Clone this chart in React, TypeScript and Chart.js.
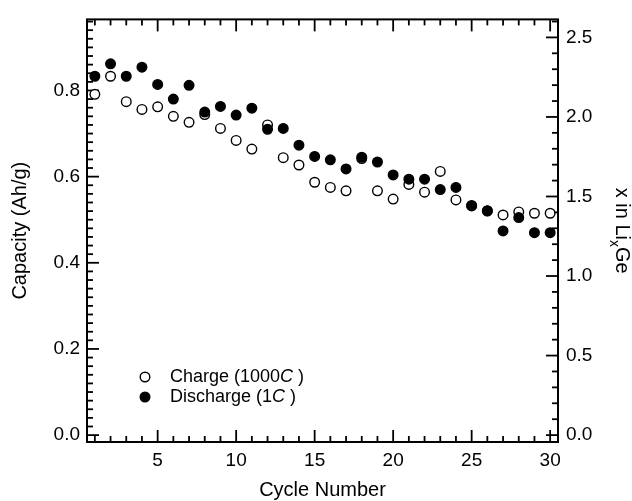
import React, { useEffect, useRef } from "react";
import { Chart, registerables } from "chart.js";

Chart.register(...registerables);

// ---- data ----
const cycles = [1, 2, 3, 4, 5, 6, 7, 8, 9, 10, 11, 12, 13, 14, 15, 16, 17, 18, 19, 20, 21, 22, 23, 24, 25, 26, 27, 28, 29, 30];
const chargeCapacity = [
  0.791, 0.833, 0.774, 0.756, 0.762, 0.740, 0.726, 0.744, 0.712, 0.684,
  0.664, 0.720, 0.644, 0.627, 0.587, 0.575, 0.567, 0.642, 0.567, 0.548,
  0.582, 0.564, 0.612, 0.546, 0.533, 0.520, 0.511, 0.518, 0.515, 0.515,
];
const dischargeCapacity = [
  0.833, 0.862, 0.833, 0.854, 0.814, 0.780, 0.812, 0.750, 0.763, 0.743,
  0.759, 0.710, 0.712, 0.673, 0.647, 0.639, 0.618, 0.645, 0.634, 0.604,
  0.594, 0.594, 0.570, 0.575, 0.532, 0.521, 0.474, 0.505, 0.470, 0.470,
];
const cycleTicks = [5, 10, 15, 20, 25, 30];
const capacityTicks = [0, 0.2, 0.4, 0.6, 0.8];
const lithiumTicks = [0, 0.5, 1.0, 1.5, 2.0, 2.5];
const cycleRange = [0.5, 30.5];
const capacityRange = [-0.016, 0.965];
const lithiumPerCapacity = 2.708; // x in LixGe per Ah/g
const legendLabels = ["Charge (1000", "Discharge (1"];

const FONT = "'Liberation Sans', Arial, Helvetica, sans-serif";

const decorPlugin = {
  id: "decor",
  beforeDatasetsDraw(chart: any) {
    const { ctx, chartArea: a, scales } = chart;
    const xs = scales.x, ys = scales.y, y2 = scales.y2;
    ctx.save();
    ctx.strokeStyle = "#000";
    ctx.lineWidth = 1.8;
    const line = (x1: number, yA: number, x2: number, yB: number) => {
      ctx.beginPath();
      ctx.moveTo(x1, yA);
      ctx.lineTo(x2, yB);
      ctx.stroke();
    };
    for (let c = 1; c <= 30; c++) {
      const px = xs.getPixelForValue(c);
      const len = c % 5 === 0 ? 12 : 6;
      line(px, a.bottom, px, a.bottom - len);
      line(px, a.top, px, a.top + len);
    }
    for (let i = 0; i <= 48; i++) {
      const v = i * 0.02;
      if (v > ys.max) break;
      const py = ys.getPixelForValue(v);
      const len = i % 10 === 0 ? 12 : 6;
      line(a.left, py, a.left + len, py);
    }
    for (let i = 0; i <= 26; i++) {
      const v = i * 0.1;
      if (v > y2.max) break;
      const py = y2.getPixelForValue(v);
      const len = i % 5 === 0 ? 12 : 6;
      line(a.right, py, a.right - len, py);
    }
    ctx.lineWidth = 2;
    ctx.strokeRect(a.left, a.top, a.right - a.left, a.bottom - a.top);
    ctx.restore();
  },
  afterDraw(chart: any) {
    const { ctx, chartArea: a } = chart;
    ctx.save();
    // legend
    const mx = a.left + 58;
    const rows = [a.bottom - 65, a.bottom - 45];
    rows.forEach((ly, i) => {
      ctx.beginPath();
      ctx.arc(mx, ly, 4.8, 0, Math.PI * 2);
      ctx.fillStyle = i === 0 ? "#fff" : "#000";
      ctx.fill();
      ctx.lineWidth = 1.4;
      ctx.strokeStyle = "#000";
      ctx.stroke();
      let tx = mx + 25;
      ctx.fillStyle = "#000";
      ctx.textBaseline = "middle";
      ctx.textAlign = "left";
      ctx.font = `18px ${FONT}`;
      ctx.fillText(legendLabels[i], tx, ly);
      tx += ctx.measureText(legendLabels[i]).width;
      ctx.font = `italic 18px ${FONT}`;
      ctx.fillText("C", tx, ly);
      tx += ctx.measureText("C").width;
      ctx.font = `18px ${FONT}`;
      ctx.fillText(" )", tx, ly);
    });
    // right axis title: x in Li_x Ge
    const cx = 623;
    const cy = (a.top + a.bottom) / 2;
    ctx.translate(cx, cy);
    ctx.rotate(Math.PI / 2);
    ctx.fillStyle = "#000";
    ctx.textAlign = "left";
    ctx.font = `20px ${FONT}`;
    const w1 = ctx.measureText("x in Li").width;
    const w3 = ctx.measureText("Ge").width;
    ctx.font = `14px ${FONT}`;
    const w2 = ctx.measureText("x").width;
    let sx = -(w1 + w2 + w3) / 2;
    ctx.textBaseline = "alphabetic";
    ctx.font = `20px ${FONT}`;
    ctx.fillText("x in Li", sx, 7);
    sx += w1;
    ctx.font = `14px ${FONT}`;
    ctx.fillText("x", sx, 13);
    sx += w2;
    ctx.font = `20px ${FONT}`;
    ctx.fillText("Ge", sx, 7);
    ctx.restore();
  },
};

export default function App() {
  const canvasRef = useRef<HTMLCanvasElement>(null);

  useEffect(() => {
    if (!canvasRef.current) return;
    const tickFont = { size: 19, family: FONT };
    const chart = new Chart(canvasRef.current, {
      type: "scatter",
      data: {
        datasets: [
          {
            label: "Discharge (1C )",
            data: cycles.map((c, i) => ({ x: c, y: dischargeCapacity[i] })),
            pointStyle: "circle",
            pointRadius: 4.8,
            pointBorderWidth: 1.4,
            backgroundColor: "#000",
            borderColor: "#000",
            showLine: false,
          },
          {
            label: "Charge (1000C )",
            data: cycles.map((c, i) => ({ x: c, y: chargeCapacity[i] })),
            pointStyle: "circle",
            pointRadius: 4.8,
            pointBorderWidth: 1.4,
            backgroundColor: "#fff",
            borderColor: "#000",
            showLine: false,
          },
        ],
      },
      options: {
        responsive: false,
        animation: false,
        layout: { padding: { top: 16, left: 0, right: 0, bottom: 0 } },
        plugins: {
          legend: { display: false },
          tooltip: { enabled: false },
        },
        scales: {
          x: {
            type: "linear",
            position: "bottom",
            min: cycleRange[0],
            max: cycleRange[1],
            afterBuildTicks: (s: any) => {
              s.ticks = cycleTicks.map((v) => ({ value: v }));
            },
            afterFit: (s: any) => {
              s.height = 59;
            },
            ticks: {
              color: "#000",
              font: tickFont,
              padding: 7,
              maxRotation: 0,
              callback: (v: any) => String(v),
            },
            grid: { display: false, drawTicks: false },
            border: { display: false },
            title: {
              display: true,
              text: "Cycle Number",
              color: "#000",
              font: { size: 20, family: FONT, lineHeight: 1.0 },
              padding: { top: 0, bottom: 1 },
            },
          },
          y: {
            type: "linear",
            position: "left",
            min: capacityRange[0],
            max: capacityRange[1],
            afterBuildTicks: (s: any) => {
              s.ticks = capacityTicks.map((v) => ({ value: v }));
            },
            afterFit: (s: any) => {
              s.width = 87;
            },
            ticks: {
              color: "#000",
              font: tickFont,
              padding: 7,
              callback: (v: any) => Number(v).toFixed(1),
            },
            grid: { display: false, drawTicks: false },
            border: { display: false },
            title: {
              display: true,
              text: "Capacity (Ah/g)",
              color: "#000",
              font: { size: 20, family: FONT, lineHeight: 1.2 },
              padding: { top: 8, bottom: 0 },
            },
          },
          y2: {
            type: "linear",
            position: "right",
            min: capacityRange[0] * lithiumPerCapacity,
            max: capacityRange[1] * lithiumPerCapacity,
            afterBuildTicks: (s: any) => {
              s.ticks = lithiumTicks.map((v) => ({ value: v }));
            },
            afterFit: (s: any) => {
              s.width = 74;
            },
            ticks: {
              color: "#000",
              font: tickFont,
              padding: 8,
              callback: (v: any) => Number(v).toFixed(1),
            },
            grid: { display: false, drawTicks: false },
            border: { display: false },
          },
        },
      },
      plugins: [decorPlugin],
    } as any);
    return () => chart.destroy();
  }, []);

  return (
    <div style={{ position: "fixed", left: 0, top: 0, width: 632, height: 501, background: "#fff" }}>
      <canvas ref={canvasRef} width={632} height={501} style={{ display: "block" }} />
    </div>
  );
}
